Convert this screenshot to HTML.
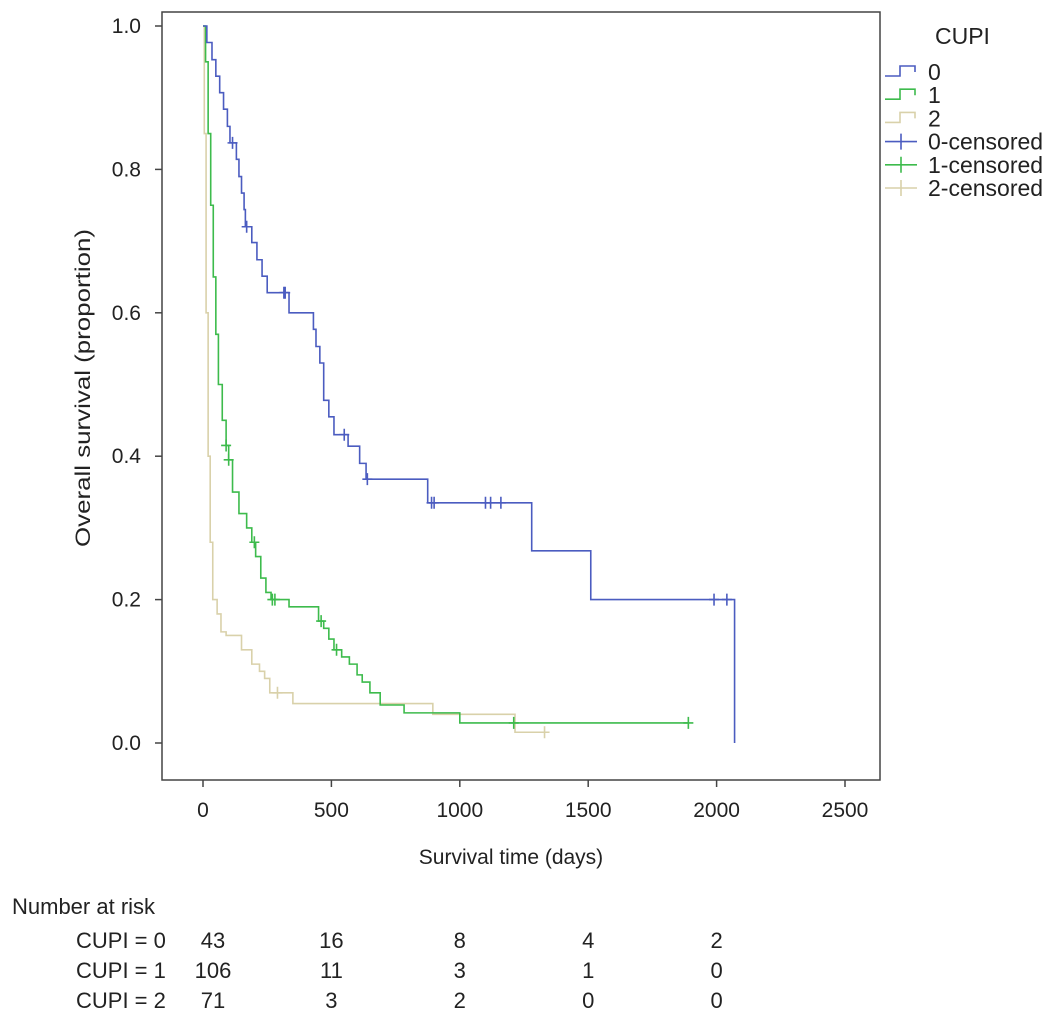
<!DOCTYPE html>
<html><head><meta charset="utf-8"><style>
body{margin:0;background:#fff;}
svg{display:block;font-family:"Liberation Sans",Arial,sans-serif;}
</style></head><body>
<svg id="chart" width="1063" height="1026" xmlns="http://www.w3.org/2000/svg">
<rect x="162" y="12" width="718" height="768" fill="#fff" stroke="#444" stroke-width="1.5"/>
<g id="axes"></g>
<g id="curves"></g>
<g id="legend"></g>
<text x="511" y="864" font-size="21" text-anchor="middle" fill="#222">Survival time (days)</text>
<text transform="translate(90,388) rotate(-90)" font-size="21" text-anchor="middle" textLength="318" lengthAdjust="spacingAndGlyphs" fill="#222">Overall survival (proportion)</text>
<g id="risk"></g>
</svg>
<script>
const xTicks=[0,500,1000,1500,2000,2500];
const yTicks=[0,0.2,0.4,0.6,0.8,1.0];
const groupNames=["0","1","2"];
const colors=["#4b5cc0","#3dbb4c","#d9d1aa"];
const s0Times=[0,15,35,50,65,80,95,105,130,140,150,160,165,190,210,230,250,335,430,440,455,470,490,510,565,610,635,875,1280,1510,2070];
const s0Surv=[1,0.977,0.953,0.93,0.907,0.884,0.86,0.837,0.814,0.79,0.767,0.744,0.72,0.698,0.674,0.651,0.628,0.6,0.577,0.553,0.53,0.478,0.455,0.43,0.414,0.39,0.368,0.335,0.268,0.2,0];
const s0End=2070;
const c0Times=[115,170,315,320,550,640,890,900,1100,1120,1160,1990,2040];
const s1Times=[0,10,20,30,40,50,60,75,90,100,115,140,170,190,205,225,245,265,335,450,470,490,510,540,570,600,620,650,690,783,1000];
const s1Surv=[1,0.95,0.85,0.75,0.65,0.57,0.5,0.45,0.415,0.395,0.35,0.32,0.3,0.28,0.26,0.23,0.21,0.2,0.19,0.17,0.16,0.145,0.13,0.12,0.11,0.095,0.085,0.07,0.053,0.042,0.028];
const s1End=1890;
const c1Times=[90,100,200,270,280,460,520,1210,1890];
const s2Times=[0,5,12,20,28,38,55,70,90,150,190,220,240,260,350,895,1215];
const s2Surv=[1,0.85,0.6,0.4,0.28,0.2,0.18,0.155,0.15,0.13,0.11,0.1,0.09,0.07,0.055,0.04,0.015];
const s2End=1330;
const c2Times=[290,1330];
const riskLabels=["CUPI = 0","CUPI = 1","CUPI = 2"];
const riskTimes=[0,500,1000,1500,2000];
const risk0=[43,16,8,4,2];
const risk1=[106,11,3,1,0];
const risk2=[71,3,2,0,0];

const NS="http://www.w3.org/2000/svg";
const X=t=>203+t*(845-203)/2500;
const Y=s=>743-s*(743-26);
function mk(tag,attrs,parent,txt){const e=document.createElementNS(NS,tag);for(const k in attrs)e.setAttribute(k,attrs[k]);if(txt!==undefined)e.textContent=txt;parent.appendChild(e);return e;}
const axes=document.getElementById('axes');
xTicks.forEach(t=>{
  const l=mk('line',{x1:X(t),x2:X(t),y1:780,y2:787,stroke:'#444','stroke-width':1.5},axes);
  
  
  const tx=mk('text',{x:X(t),y:817,'font-size':21,'text-anchor':'middle',fill:'#222'},axes,String(t));
  
  
});
yTicks.forEach(v=>{
  const l=mk('line',{x1:155,x2:162,y1:Y(v),y2:Y(v),stroke:'#444','stroke-width':1.5},axes);
  
  
  const tx=mk('text',{x:141,y:Y(v)+7,'font-size':21,'text-anchor':'end',fill:'#222'},axes,v.toFixed(1));
  
  
});
function survAt(times,surv,t){let s=1;for(let i=0;i<times.length;i++){if(times[i]<=t)s=surv[i];}return s;}
const curves=document.getElementById('curves');
const series=[[s0Times,s0Surv,s0End,c0Times],[s1Times,s1Surv,s1End,c1Times],[s2Times,s2Surv,s2End,c2Times]];
[2,1,0].forEach(g=>{
  const [T,S,E,C]=series[g];
  let d='M'+X(T[0])+' '+Y(S[0]);
  for(let i=1;i<T.length;i++){d+=' H'+X(T[i])+' V'+Y(S[i]);}
  d+=' H'+X(E);
  const p=mk('path',{d:d,fill:'none',stroke:colors[g],'stroke-width':1.6},curves);
  
  
  C.forEach(t=>{
    const x=X(t),y=Y(survAt(T,S,t));
    const m=mk('path',{d:`M${x-5} ${y}H${x+5}M${x} ${y-6}V${y+6}`,stroke:colors[g],'stroke-width':1.6},curves);
    
    
  });
});
const lg=document.getElementById('legend');
const lt=mk('text',{x:935,y:44,'font-size':23,fill:'#222'},lg,'CUPI');


const entries=["0","1","2","0-censored","1-censored","2-censored"];
entries.forEach((name,i)=>{
  const y=72+i*23.2, c=colors[i%3];
  const g=mk('g',{},lg);
  
  
  if(i<3) mk('path',{d:`M885 ${y+4}H900V${y-6}H915V${y}`,fill:'none',stroke:c,'stroke-width':1.6},g);
  else mk('path',{d:`M885 ${y}H917M901 ${y-8}V${y+8}`,stroke:c,'stroke-width':1.6},g);
  mk('text',{x:928,y:y+8,'font-size':23,fill:'#222'},g,name);
});
const rk=document.getElementById('risk');
const rt=mk('text',{x:12,y:914,'font-size':22,fill:'#222','xml:space':'preserve'},rk,'Number  at risk');


[risk0,risk1,risk2].forEach((row,r)=>{
  const y=948+r*30;
  const lab=mk('text',{x:76,y:y,'font-size':22,fill:'#222'},rk,riskLabels[r]);
  
  
  row.forEach((v,j)=>{
    const tx=mk('text',{x:X(riskTimes[j])+(j===0?10:0),y:y,'font-size':22,'text-anchor':'middle',fill:'#222'},rk,String(v));
    
    
  });
});
</script>
</body></html>
